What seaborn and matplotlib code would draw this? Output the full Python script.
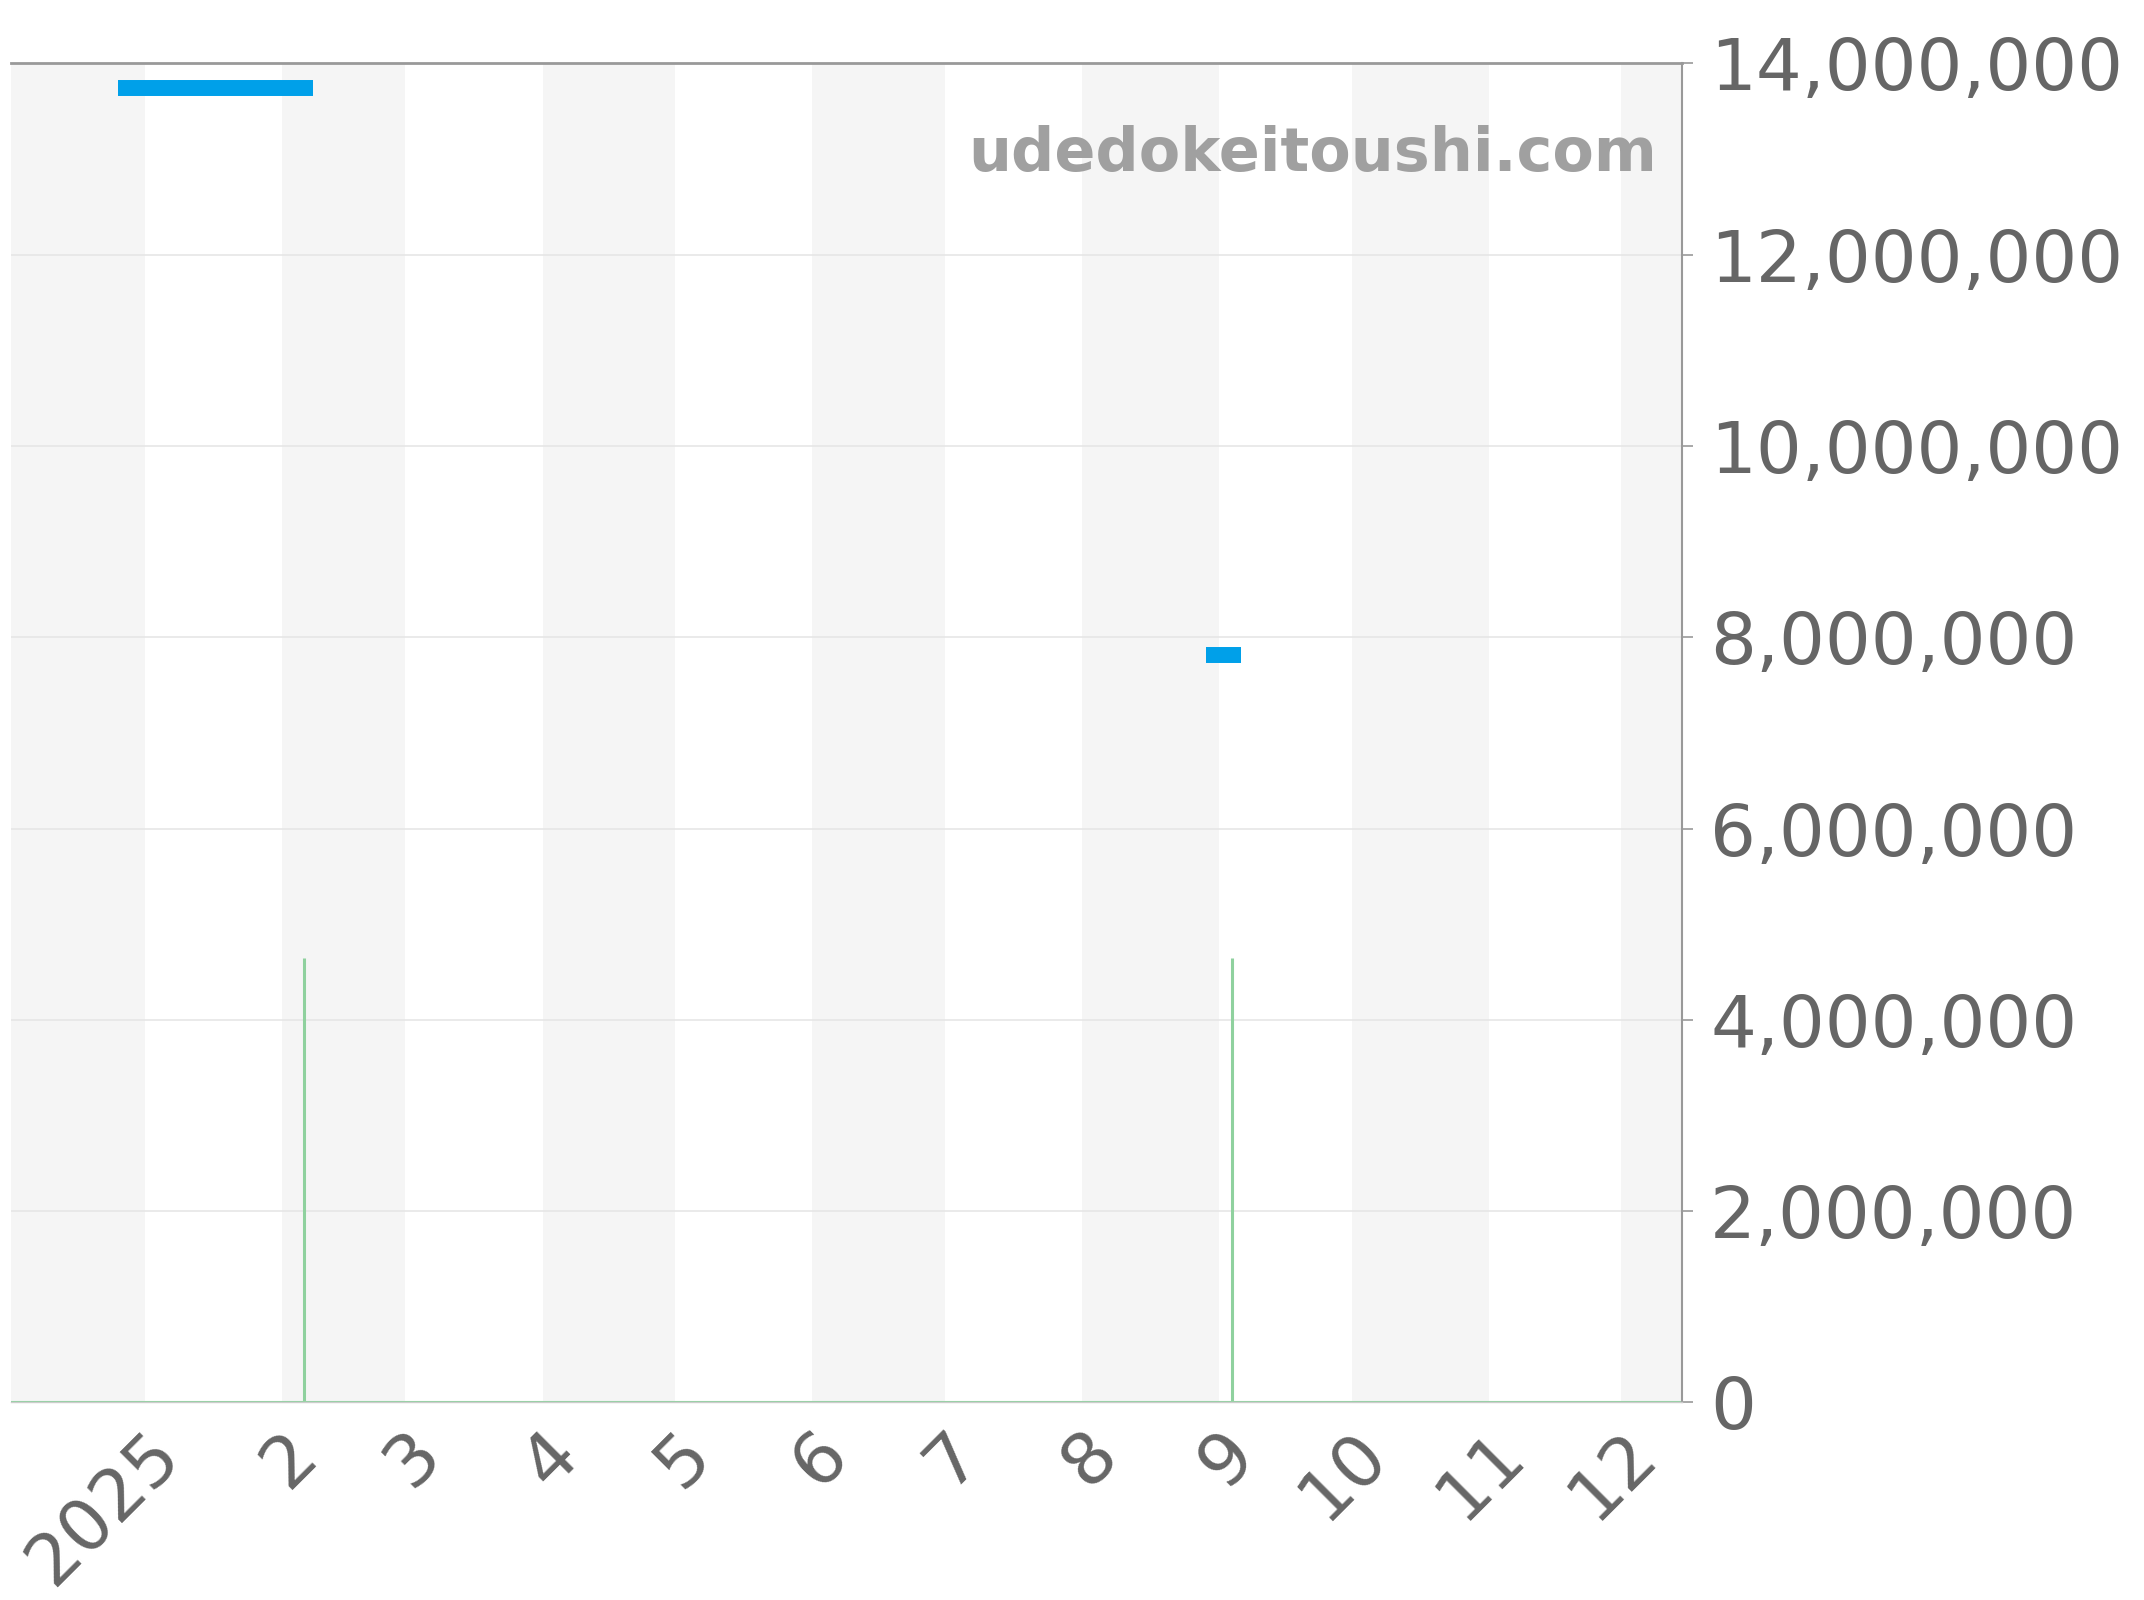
import numpy as np
import pandas as pd
import matplotlib
matplotlib.use('Agg')
import matplotlib.pyplot as plt
from matplotlib.ticker import FuncFormatter
import seaborn as sns

# price range segments (start, end, price)
seg_start = ['2024-12-26', '2025-08-29']
seg_end = ['2025-02-08', '2025-09-06']
seg_price = [13740000, 7810000]

# volume spikes
vol_dates = ['2025-02-06', '2025-09-04']
vol_values = [4650000, 4650000]

# month ticks
tick_dates = ['2025-01-01', '2025-02-01', '2025-03-01', '2025-04-01', '2025-05-01', '2025-06-01',
              '2025-07-01', '2025-08-01', '2025-09-01', '2025-10-01', '2025-11-01', '2025-12-01']
tick_labels = ['2025', '2', '3', '4', '5', '6', '7', '8', '9', '10', '11', '12']

sns.set_style('white')
plt.rcParams['font.family'] = ['DejaVu Sans']

fig = plt.figure(figsize=(21.44, 16), dpi=100, facecolor='white')
ax = fig.add_axes([0.005, 0.1235, 0.7797, 0.8369])

x0 = pd.Timestamp('2024-12-01 17:00')
x1 = pd.Timestamp('2025-12-14 20:00')

# alternating month stripes
months = pd.date_range('2024-12-01', '2026-01-01', freq='MS')
for i in range(len(months) - 1):
    if months[i].month % 2 == 0:
        ax.axvspan(months[i], months[i + 1], color='#f5f5f5', lw=0, zorder=0)

# horizontal grid
for v in range(2000000, 14000001, 2000000):
    ax.axhline(v, color='#e6e6e6', lw=1.2, zorder=1)

# volume
ax.axhline(0, color='#8fd19e', lw=1.5, zorder=2)
ax.vlines(pd.to_datetime(vol_dates), 0, vol_values, color='#8fd19e', lw=2.2, zorder=2)

# price segments
seg_df = pd.DataFrame({
    'date': pd.to_datetime(seg_start + seg_end),
    'price': seg_price + seg_price,
    'seg': list(range(len(seg_price))) * 2,
})
sns.lineplot(data=seg_df, x='date', y='price', units='seg', estimator=None,
             color='#00a0e9', lw=11.5, solid_capstyle='butt', ax=ax, zorder=3)

ax.set_xlim(x0, x1)
ax.set_ylim(0, 14000000)
ax.set_xlabel('')
ax.set_ylabel('')

ax.set_xticks(pd.to_datetime(tick_dates))
ax.set_xticklabels(tick_labels, rotation=45, ha='right', rotation_mode='anchor')
ax.yaxis.tick_right()
ax.set_yticks(range(0, 14000001, 2000000))
ax.yaxis.set_major_formatter(FuncFormatter(lambda v, p: f'{int(v):,}'))
ax.tick_params(axis='both', colors='#999999', labelcolor='#666666', labelsize=52,
               length=8, width=1.2, direction='out')
ax.tick_params(axis='y', pad=12)
ax.tick_params(axis='x', pad=4)

ax.spines['left'].set_visible(False)
ax.spines['top'].set_color('#999999')
ax.spines['top'].set_linewidth(2)
ax.spines['right'].set_color('#999999')
ax.spines['right'].set_linewidth(1.5)
ax.spines['bottom'].set_color('#cccccc')
ax.spines['bottom'].set_linewidth(1)

ax.text(0.985, 0.932, 'udedokeitoushi.com', transform=ax.transAxes, ha='right', va='center',
        fontsize=43.5, fontweight='bold', color='#a0a0a0', zorder=4)

fig.savefig('out.png', dpi=100, facecolor='white')
